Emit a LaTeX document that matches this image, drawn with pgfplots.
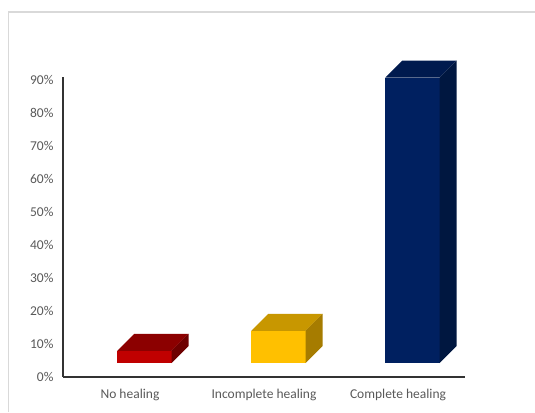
\documentclass[border=0pt]{standalone}
\usepackage{pgfplots}
\pgfplotsset{compat=1.18}
\usepackage{fontspec}
\setmainfont{Carlito}
\definecolor{lbl}{HTML}{595959}
\definecolor{redF}{HTML}{C00000}
\definecolor{redT}{HTML}{8C0000}
\definecolor{redS}{HTML}{6E0000}
\definecolor{yelF}{HTML}{FFC000}
\definecolor{yelT}{HTML}{C89700}
\definecolor{yelS}{HTML}{A67C00}
\definecolor{bluF}{HTML}{002060}
\definecolor{bluT}{HTML}{001A4E}
\definecolor{bluS}{HTML}{001740}
\pgfplotsset{common/.style={
  at={(63pt,35pt)}, anchor=south west,
  scale only axis, width=402pt, height=300pt,
  xmin=-0.5, xmax=2.5, ymin=0, ymax=90.9,
  clip=false}}
\begin{document}
\begin{tikzpicture}[x=1pt,y=1pt]
\useasboundingbox (0,0) rectangle (535,412);
\draw[color=black!15, line width=1.5pt] (8.5,0) -- (8.5,400) -- (536,400);
\begin{axis}[
  common,
  axis x line*=bottom, axis y line*=left,
  axis line style={black!80, line width=1.2pt},
  major tick length=0pt,
  xtick={0,1,2},
  xticklabels={No healing, Incomplete healing, Complete healing},
  ytick={0,10,...,90},
  yticklabel={\pgfmathprintnumber{\tick}\%},
  /pgf/number format/assume math mode=true,
  ticklabel style={font=\fontsize{13.5}{15}\selectfont, text=lbl},
  xticklabel style={yshift=-9pt},
  yticklabel style={xshift=-6pt},
  ybar stacked, bar width=0.405,
]
% invisible floor offset of the 3D bars
\addplot[draw=none, fill=none, forget plot] coordinates {(0.1075,4.2) (1.1075,4.2) (2.1075,4.2)};
% front faces (values in %)
\addplot[draw=none, fill=redF] coordinates {(0.1075,3.7) (1.1075,0) (2.1075,0)};
\addplot[draw=none, fill=yelF] coordinates {(0.1075,0) (1.1075,9.8) (2.1075,0)};
\addplot[draw=none, fill=bluF] coordinates {(0.1075,0) (1.1075,0) (2.1075,86.5)};
\end{axis}
\begin{axis}[common, hide axis]
% depth faces (top and right side of each bar)
\addplot[draw=none, fill=redT] coordinates {(-0.095,7.9) (0.31,7.9) (0.437,13.05) (0.032,13.05)} --cycle;
\addplot[draw=none, fill=redS] coordinates {(0.31,4.2) (0.31,7.9) (0.437,13.05) (0.437,9.35)} --cycle;
\addplot[draw=none, fill=yelT] coordinates {(0.905,14) (1.31,14) (1.437,19.15) (1.032,19.15)} --cycle;
\addplot[draw=none, fill=yelS] coordinates {(1.31,4.2) (1.31,14) (1.437,19.15) (1.437,9.35)} --cycle;
\addplot[draw=none, fill=bluT] coordinates {(1.905,90.7) (2.31,90.7) (2.437,95.85) (2.032,95.85)} --cycle;
\addplot[draw=none, fill=bluS] coordinates {(2.31,4.2) (2.31,90.7) (2.437,95.85) (2.437,9.35)} --cycle;
\end{axis}
\end{tikzpicture}
\end{document}
